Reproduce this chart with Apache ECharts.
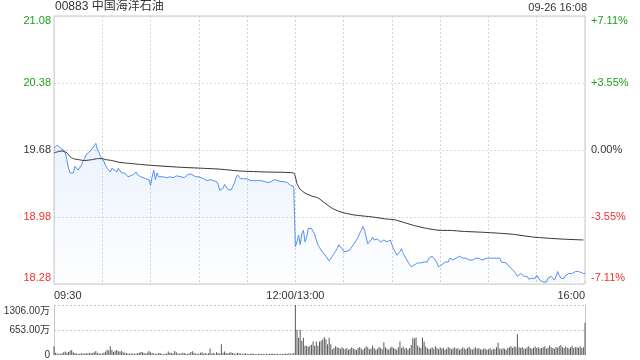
<!DOCTYPE html>
<html><head><meta charset="utf-8">
<script src="https://cdn.jsdelivr.net/npm/echarts@6/dist/echarts.min.js"></script>
<style>html,body{margin:0;padding:0;background:#fff}#c{width:640px;height:360px}</style>
</head><body><div id="c"></div>
<script>
// ---------- data ----------
const stockTitle = '00883 中国海洋石油';
const stampText = '09-26 16:08';
const prevClose = 19.68;
const priceMin = 18.28, priceMax = 21.08, priceStep = 0.7;
const priceTickLabels = ['18.28', '18.98', '19.68', '20.38', '21.08'];
const pctTickLabels = ['-7.11%', '-3.55%', '0.00%', '+3.55%', '+7.11%'];
const volMax = 1306, volStep = 653;
const volTickLabels = ['0', '653.00万', '1306.00万'];
const timeTickMinutes = [0, 150, 330];
const timeTickLabels = ['09:30', '12:00/13:00', '16:00'];

// [trading minute since 09:30 (lunch removed), price]
const pricePoints = [
[0,19.70],[2,19.73],[4,19.70],[6,19.68],[7,19.65],[8,19.58],[9,19.49],[10,19.44],[11,19.42],[12,19.44],
[13,19.51],[14,19.51],[15,19.47],[16,19.49],[17,19.52],[18,19.56],[19,19.59],[20,19.63],[21,19.64],[22,19.66],
[23,19.65],[24,19.70],[25,19.71],[26,19.75],[27,19.68],[28,19.65],[29,19.61],[30,19.59],[31,19.56],[32,19.52],
[33,19.49],[34,19.47],[35,19.45],[36,19.49],[37,19.47],[39,19.45],[40,19.49],[41,19.47],[42,19.44],[43,19.45],
[44,19.44],[45,19.42],[46,19.40],[47,19.40],[49,19.42],[50,19.44],[51,19.45],[52,19.42],[53,19.44],[54,19.40],
[55,19.42],[57,19.38],[58,19.38],[59,19.37],[60,19.31],[61,19.40],[62,19.47],[63,19.37],[64,19.44],[65,19.40],
[68,19.40],[70,19.39],[72,19.40],[74,19.39],[76,19.41],[77,19.42],[79,19.40],[81,19.39],[83,19.42],[85,19.43],
[86,19.42],[88,19.40],[89,19.38],[90,19.40],[91,19.39],[93,19.38],[94,19.37],[95,19.36],[97,19.37],[98,19.35],
[99,19.36],[100,19.34],[101,19.35],[102,19.32],[103,19.26],[104,19.26],[105,19.28],[106,19.32],[107,19.30],[108,19.27],
[109,19.28],[110,19.26],[111,19.27],[112,19.33],[113,19.38],[114,19.42],[115,19.40],[116,19.38],[117,19.40],[118,19.38],
[120,19.38],[122,19.36],[124,19.36],[127,19.36],[128,19.35],[129,19.36],[130,19.34],[131,19.35],[132,19.36],[133,19.34],
[134,19.36],[135,19.35],[136,19.35],[137,19.37],[138,19.37],[139,19.36],[140,19.36],[141,19.35],[142,19.36],[143,19.35],
[144,19.33],[145,19.34],[146,19.35],[147,19.31],[148,19.30],[149,19.30],
[150,18.67],[151,18.72],[152,18.79],[153,18.69],[154,18.81],[155,18.84],[156,18.72],[157,18.77],[158,18.86],[159,18.84],
[160,18.86],[161,18.83],[162,18.80],[163,18.74],[164,18.69],[165,18.66],[166,18.64],[167,18.61],[168,18.59],[169,18.57],
[170,18.55],[171,18.52],[172,18.50],[173,18.57],[174,18.60],[175,18.62],[176,18.65],[177,18.69],[178,18.69],[179,18.65],
[180,18.62],[181,18.60],[182,18.62],[183,18.62],[184,18.64],[185,18.65],[186,18.69],[187,18.70],[188,18.74],[189,18.77],
[190,18.81],[191,18.84],[192,18.88],[193,18.84],[194,18.77],[195,18.70],[196,18.72],[197,18.74],[198,18.77],[199,18.74],
[200,18.76],[201,18.75],[202,18.74],[203,18.72],[204,18.70],[205,18.74],[206,18.76],[207,18.72],[208,18.70],[209,18.74],
[210,18.69],[211,18.65],[212,18.64],[213,18.58],[214,18.60],[215,18.62],[216,18.65],[217,18.60],[218,18.57],[219,18.55],
[220,18.51],[221,18.50],[222,18.46],[223,18.44],[224,18.48],[225,18.46],[226,18.50],[227,18.48],[228,18.50],[229,18.48],
[230,18.51],[231,18.50],[232,18.51],[233,18.55],[234,18.53],[235,18.57],[236,18.57],[237,18.53],[238,18.50],[239,18.46],
[240,18.46],[241,18.48],[242,18.50],[243,18.51],[244,18.50],[245,18.51],[246,18.55],[247,18.55],[248,18.53],[250,18.55],
[252,18.57],[253,18.57],[254,18.55],[256,18.55],[258,18.53],[259,18.55],[260,18.53],[262,18.55],[264,18.55],[266,18.53],
[267,18.55],[269,18.55],[271,18.55],[272,18.53],[273,18.55],[275,18.55],[276,18.57],[277,18.55],[278,18.51],[279,18.51],
[281,18.50],[283,18.46],[285,18.43],[287,18.39],[288,18.36],[289,18.37],[290,18.39],[291,18.37],[292,18.36],[293,18.34],
[294,18.36],[295,18.33],[296,18.32],[297,18.34],[298,18.36],[299,18.34],[300,18.37],[301,18.36],[302,18.32],[303,18.30],
[304,18.30],[305,18.32],[306,18.30],[307,18.34],[308,18.32],[309,18.36],[310,18.34],[311,18.32],[312,18.36],[313,18.41],
[314,18.37],[315,18.34],[316,18.36],[317,18.34],[318,18.37],[319,18.36],[320,18.39],[321,18.41],[322,18.39],[323,18.41],
[324,18.41],[325,18.43],[326,18.41],[327,18.39],[329,18.39],[330,18.39]
];

// [trading minute, average price]
const avgPoints = [
[0,19.65],[2,19.66],[5,19.67],[8,19.65],[10,19.61],[12,19.59],[15,19.58],[19,19.57],[24,19.58],[27,19.59],
[30,19.59],[32,19.58],[36,19.57],[41,19.55],[47,19.54],[53,19.53],[60,19.52],[69,19.51],[78,19.50],[91,19.49],
[103,19.48],[116,19.46],[132,19.45],[149,19.44],[150,19.40],[151,19.33],[153,19.27],[156,19.23],[160,19.20],[164,19.18],
[168,19.13],[173,19.07],[177,19.04],[181,19.02],[187,19.00],[198,18.98],[206,18.96],[212,18.95],[218,18.92],[224,18.89],
[232,18.86],[240,18.84],[246,18.84],[254,18.83],[267,18.82],[277,18.81],[285,18.80],[298,18.77],[315,18.75],[329,18.74]
];

// volume per trading minute (万股), index = minute 0..330
const volumes = [
230,60,40,35,30,45,70,90,60,80,
110,130,70,50,40,35,30,45,40,30,
50,40,60,45,55,70,105,50,40,35,
45,60,90,140,120,230,130,80,110,130,
100,90,110,70,60,50,40,35,45,40,
30,35,50,60,80,70,50,40,60,105,
70,50,40,35,30,55,45,30,25,35,
40,90,60,50,40,105,70,40,30,45,
60,50,35,30,40,70,95,60,40,30,
35,60,70,40,50,30,45,170,40,60,
35,70,50,40,280,60,90,50,40,60,
70,50,40,35,60,45,40,30,35,45,
30,25,35,40,30,25,20,30,35,25,
30,20,30,25,35,30,40,25,30,35,
20,30,25,35,40,30,45,35,30,50,
1306,660,450,660,370,450,240,240,215,240,
265,350,240,350,240,350,370,410,470,410,
280,450,280,150,180,230,200,180,160,200,
170,150,180,140,160,200,170,150,130,180,
210,160,140,180,230,200,150,170,250,180,
140,160,210,180,150,330,200,160,140,190,
220,180,160,140,200,350,180,220,160,190,
140,180,260,450,430,460,250,200,180,450,
350,220,180,150,170,200,160,230,180,150,
200,170,190,140,160,210,180,150,170,200,
160,180,140,160,200,170,150,180,210,160,
140,170,200,160,180,150,140,170,160,140,
150,180,130,160,150,200,320,170,150,180,
160,140,180,200,230,180,220,200,540,200,
180,210,170,160,200,230,180,160,190,220,
180,200,160,180,200,230,170,190,250,200,
180,160,210,190,230,260,200,180,220,190,
170,200,240,180,210,200,190,230,180,200,
840
];

// ---------- chart ----------
const GREEN = '#1d9f1d', RED = '#f03030', DARK = '#333333';
const FONT = 'Arial, "Liberation Sans", "Noto Sans CJK SC", sans-serif';
const tickIdx = v => Math.round((v - priceMin) / priceStep);
const cls = i => i === 4 ? 'gt' : i === 3 ? 'g' : i === 2 ? 'k' : i === 1 ? 'r' : 'rb';
const priceRich = {
  gt: { color: GREEN, fontSize: 11, fontFamily: FONT, padding: [10, 0, 0, 0] },
  g: { color: GREEN, fontSize: 11, fontFamily: FONT },
  k: { color: DARK, fontSize: 11, fontFamily: FONT },
  r: { color: RED, fontSize: 11, fontFamily: FONT },
  rb: { color: RED, fontSize: 11, fontFamily: FONT, padding: [0, 0, 12, 0] }
};
const chart = echarts.init(document.getElementById('c'), null, { renderer: 'canvas' });
chart.setOption({
  animation: false,
  backgroundColor: '#fff',
  title: [
    { text: stockTitle, left: 55, top: 1, padding: 0, textStyle: { fontSize: 12, fontWeight: 'normal', color: DARK, fontFamily: FONT } },
    { text: stampText, right: 53, top: 2, padding: 0, textStyle: { fontSize: 11, fontWeight: 'normal', color: DARK, fontFamily: FONT } }
  ],
  grid: [
    { left: 54, top: 16, width: 531, height: 268, show: true, borderColor: '#c8c8c8', borderWidth: 1 },
    { left: 54, top: 305, width: 531, height: 51, show: false }
  ],
  xAxis: [
    { gridIndex: 0, type: 'value', min: 0, max: 330, interval: 30,
      axisLine: { show: false }, axisTick: { show: false },
      splitLine: { show: true, lineStyle: { color: '#d6d6d6', type: [2, 2] } },
      axisLabel: { show: true, margin: 6, fontSize: 11, color: DARK, fontFamily: FONT,
        alignMinLabel: 'left', alignMaxLabel: 'right',
        formatter: v => { const i = timeTickMinutes.indexOf(v); return i >= 0 ? timeTickLabels[i] : ''; } } },
    { gridIndex: 1, type: 'value', min: 0, max: 330, interval: 30,
      axisLine: { show: false }, axisTick: { show: false }, splitLine: { show: false }, axisLabel: { show: false } }
  ],
  yAxis: [
    { gridIndex: 0, type: 'value', min: priceMin, max: priceMax, interval: priceStep, position: 'left',
      axisLine: { show: false }, axisTick: { show: false },
      splitLine: { show: true, lineStyle: { color: '#d6d6d6', type: [2, 2] } },
      axisLabel: { margin: 3, formatter: v => { const i = tickIdx(v); return '{' + cls(i) + '|' + priceTickLabels[i] + '}'; }, rich: priceRich } },
    { gridIndex: 0, type: 'value', min: priceMin, max: priceMax, interval: priceStep, position: 'right',
      axisLine: { show: false }, axisTick: { show: false }, splitLine: { show: false },
      axisLabel: { margin: 6, formatter: v => { const i = tickIdx(v); return '{' + cls(i) + '|' + pctTickLabels[i] + '}'; }, rich: priceRich } },
    { gridIndex: 1, type: 'value', min: 0, max: volMax, interval: volStep, position: 'left',
      axisLine: { show: true, lineStyle: { color: '#c8c8c8' } }, axisTick: { show: false },
      splitLine: { show: true, showMinLine: false, lineStyle: { color: '#c8c8c8', type: [2, 2] } },
      axisLabel: { margin: 4, formatter: v => { const i = Math.round(v / volStep); return (i === 2 ? '{vt|' : '{v|') + volTickLabels[i] + '}'; },
        rich: { v: { color: DARK, fontSize: 10, fontFamily: FONT }, vt: { color: DARK, fontSize: 10, fontFamily: FONT, padding: [12, 0, 0, 0] } } } },
    { gridIndex: 1, type: 'value', min: 0, max: volMax, interval: volStep, position: 'right',
      axisLine: { show: true, lineStyle: { color: '#c8c8c8' } }, axisTick: { show: false },
      splitLine: { show: false }, axisLabel: { show: false } }
  ],
  graphic: [
    { type: 'text', left: 528, top: 272, z: 1, style: { text: 'sina.com', fontSize: 13, fill: 'rgba(0,0,0,0.07)', fontFamily: FONT } }
  ],
  series: [
    { type: 'line', xAxisIndex: 0, yAxisIndex: 0, data: pricePoints, showSymbol: false, z: 3,
      lineStyle: { color: '#5490f0', width: 1 },
      areaStyle: { origin: 'start', color: new echarts.graphic.LinearGradient(0, 0, 0, 1, [
        { offset: 0, color: 'rgba(84,144,240,0.16)' }, { offset: 1, color: 'rgba(84,144,240,0.01)' }]) } },
    { type: 'line', xAxisIndex: 0, yAxisIndex: 0, data: avgPoints, showSymbol: false, smooth: 0.2, z: 4,
      lineStyle: { color: '#333', width: 1 } },
    { type: 'bar', xAxisIndex: 1, yAxisIndex: 2, data: volumes.map((v, i) => [i, v]), barWidth: 1,
      itemStyle: { color: '#5a5a5a' } }
  ]
});
</script></body></html>
